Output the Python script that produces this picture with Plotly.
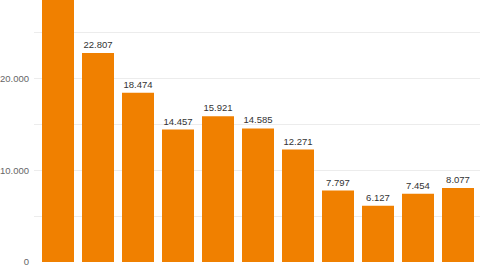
import plotly.graph_objects as go

categories = ["C1", "C2", "C3", "C4", "C5", "C6", "C7", "C8", "C9", "C10", "C11"]
values = [30500, 22807, 18474, 14457, 15921, 14585, 12271, 7797, 6127, 7454, 8077]
tick_vals = [0, 5000, 10000, 15000, 20000, 25000]
tick_text = ["0", "", "10.000", "", "20.000", ""]

text_pos = ["none"] + ["outside"] * (len(values) - 1)

fig = go.Figure(go.Bar(
    x=categories, y=values,
    marker=dict(color="#f08000", line=dict(width=0)),
    texttemplate="%{y:,}",
    textposition=text_pos,
    textfont=dict(family="Liberation Sans, Arial, sans-serif", size=9.5, color="#333333"),
    cliponaxis=True,
))

fig.update_layout(
    width=480, height=270,
    margin=dict(l=34, r=0, t=0, b=8, autoexpand=False),
    paper_bgcolor="white", plot_bgcolor="white",
    separators=",.",
    bargap=0.2,
    showlegend=False,
    font=dict(family="Liberation Sans, Arial, sans-serif", size=9, color="#666666"),
)
fig.update_xaxes(range=[-0.6, 10.55], showticklabels=False, showgrid=False,
                 zeroline=False, showline=False, automargin=False)
fig.update_yaxes(
    range=[0, 28600],
    tickvals=tick_vals,
    ticktext=tick_text,
    gridcolor="#ececec", gridwidth=1,
    zeroline=False, showline=False,
    ticks="", ticklabelstandoff=4, automargin=False,
    tickfont=dict(size=9.5, color="#666666"),
)

fig.write_html("out.html")
